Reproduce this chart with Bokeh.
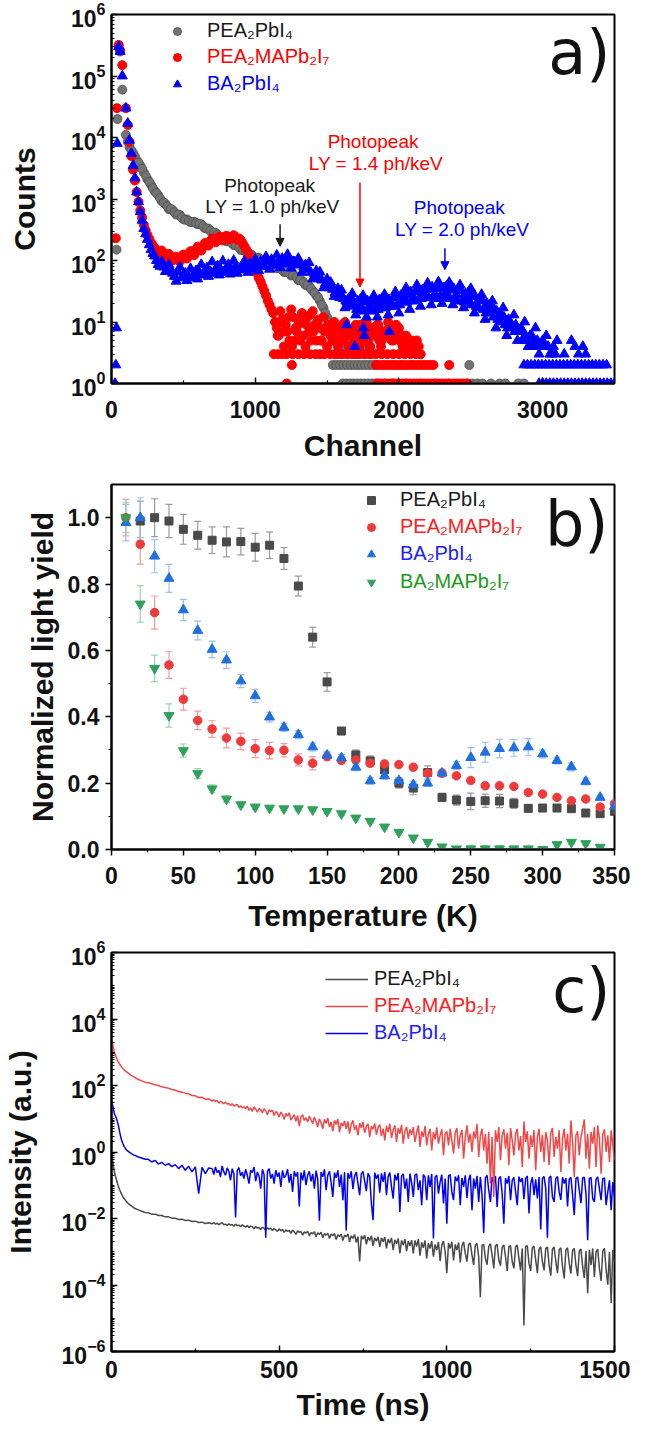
from bokeh.plotting import figure
from bokeh.layouts import column
from bokeh.models import (ColumnDataSource, FixedTicker, LogTickFormatter, NumeralTickFormatter,
                          Legend, LegendItem, Label, Arrow, NormalHead, Whisker, TeeHead)
from bokeh.embed import file_html
from bokeh.resources import INLINE

FONT = "Liberation Sans"

# ---------------- panel a : pulse height spectra (channel, counts) ----------------
pea_ch = [35, 42, 50, 60, 75] + list(range(100, 1801, 25))
pea_counts = [150, 20000, 300000, 250000, 60000,
              11000, 7000, 5600, 4300,
              3500, 2700, 2100, 1700,
              1350, 1150, 920, 830,
              680, 660, 560, 550,
              470, 465, 420, 425,
              390, 385, 335, 330,
              285, 280, 240, 238,
              205, 205, 178, 175,
              148, 146, 124, 124,
              108, 110, 98, 99,
              86, 87, 75, 76,
              65, 66, 57, 57,
              48, 47, 40, 38,
              32, 27, 22, 17,
              12, 9, 7, 6,
              5, 4, 6, 4,
              5, 4, 5, 4,
              4]
pea_ch_b = list(range(113, 1800, 25))
pea_counts_b = [8500, 6200, 4900, 3900, 3100, 2400, 1900, 1500,
                1250, 1030, 880, 760,
                690, 610, 560, 500,
                460, 440, 420, 405,
                395, 360, 330, 305,
                285, 260, 242, 222,
                208, 192, 178, 162,
                150, 136, 126, 116,
                110, 104, 100, 93,
                87, 81, 76, 70,
                66, 62, 58, 53,
                48, 44, 40, 35,
                30, 25, 19, 14,
                10, 8, 6, 5,
                6, 5, 4, 6,
                4, 5, 6, 5]
pea_row_ch = [1550, 1580, 1610, 1640, 1670, 1700, 1730, 1760, 1790, 1810,
              1540, 1565, 1590, 1615, 1640, 1665, 1690, 1715, 1740, 1765, 1790, 1815, 1840, 2490,
              1610, 1635, 1660, 1685, 1710, 1735, 1760, 1785, 1810, 1835, 1860, 1900, 1960, 2050,
              2150, 2250, 2350, 2480, 2510, 2545, 2580, 2640, 2700, 2740, 2830, 2870]
pea_row_counts = [3, 3, 3, 3, 3, 3, 3, 3, 3, 3,
                  2, 2, 2, 2, 2, 2, 2, 2, 2, 2, 2, 2, 2, 2,
                  1, 1, 1, 1, 1, 1, 1, 1, 1, 1, 1, 1, 1, 1,
                  1, 1, 1, 1, 1, 1, 1, 1, 1, 1, 1, 1]

peama_ch = [30, 38, 50, 60, 75] + list(range(100, 2151, 25))
peama_counts = [230, 30000, 320000, 260000, 150000,
                30000, 8500, 3000, 1300,
                650, 380, 260, 195,
                160, 130, 145, 112,
                128, 100, 115, 96,
                125, 108, 142, 122,
                168, 145, 192, 175,
                228, 198, 245, 212,
                252, 222, 258, 218,
                215, 170, 135, 100,
                75, 52, 38, 27,
                19, 14, 8, 15,
                4, 7, 16, 5,
                9, 14, 4, 7,
                15, 5, 8, 12,
                4, 6, 10, 4,
                7, 10, 4, 6,
                9, 4, 6, 10,
                4, 7, 9, 4,
                6, 10, 5, 7,
                8, 4, 6, 5,
                4, 5, 3]
peama_ch_b = list(range(113, 2150, 25))
peama_counts_b = [16000, 5000, 2000, 900, 500, 310, 225, 175,
                  145, 120, 132, 108,
                  112, 106, 104, 112,
                  116, 128, 132, 150,
                  158, 172, 182, 205,
                  212, 230, 228, 238,
                  240, 236, 240, 228,
                  190, 150, 118, 88,
                  62, 45, 32, 22,
                  16, 10, 6, 11,
                  9, 5, 12, 7,
                  5, 10, 12, 5,
                  9, 11, 5, 8,
                  7, 5, 8, 6,
                  5, 8, 6, 5,
                  7, 8, 5, 6,
                  8, 6, 5, 7,
                  6, 7, 5, 6,
                  6, 5, 4, 5,
                  4, 4]
peama_ch_c = list(range(1156, 2100, 25))
peama_counts_c = [6, 10, 7, 12,
                  4, 8, 11, 6,
                  9, 13, 7, 10,
                  5, 7, 9, 6,
                  8, 5, 9, 6,
                  7, 8, 5, 9,
                  7, 5, 8, 6,
                  9, 5, 7, 8,
                  6, 9, 5, 6,
                  4, 5]
peama_row_ch = [1130, 1160, 1190, 1220, 1260, 1300, 1340, 1380, 1420, 1450, 1480, 1520, 1560, 1600,
                1640, 1680, 1720, 1760, 1800, 1840, 1880, 1920, 1960, 2000, 2040, 2080, 2120, 2150,
                1255, 1840, 1865, 1890, 1915, 1940, 1965, 1990, 2015, 2040, 2065, 2090, 2115, 2140,
                2165, 2190, 2215, 2240, 2350,
                1220, 1850, 1875, 1900, 1925, 1950, 1975, 2000, 2025, 2050, 2075, 2100, 2125, 2150,
                2175, 2200, 2225, 2250, 2275, 2300, 2325, 2350, 2375, 2400, 2425, 2450, 2475]
peama_row_counts = [3, 3, 3, 3, 3, 3, 3, 3, 3, 3, 3, 3, 3, 3,
                    3, 3, 3, 3, 3, 3, 3, 3, 3, 3, 3, 3, 3, 3,
                    2, 2, 2, 2, 2, 2, 2, 2, 2, 2, 2, 2, 2, 2,
                    2, 2, 2, 2, 2,
                    1, 1, 1, 1, 1, 1, 1, 1, 1, 1, 1, 1, 1, 1,
                    1, 1, 1, 1, 1, 1, 1, 1, 1, 1, 1, 1, 1]

ba_ch = [25, 30, 35, 40, 50, 60, 75] + list(range(100, 3101, 25))
ba_counts = [1, 2, 8, 8000, 300000, 250000, 100000,
             30000, 9000, 3500, 1300,
             620, 330, 220, 150,
             118, 86, 96, 66,
             85, 62, 46, 78,
             58, 47, 74, 60,
             50, 86, 68, 55,
             95, 72, 58, 98,
             75, 60, 100, 62,
             78, 98, 64, 80,
             105, 68, 88, 115,
             72, 94, 122, 76,
             96, 125, 75, 95,
             108, 64, 85, 92,
             50, 68, 65, 36,
             50, 44, 26, 35,
             33, 17, 24, 29,
             13, 19, 27, 12,
             18, 27, 12, 18,
             28, 13, 20, 31,
             14, 22, 36, 16,
             25, 40, 18, 28,
             43, 19, 29, 45,
             20, 30, 44, 19,
             28, 40, 17, 26,
             35, 14, 22, 28,
             11, 17, 22, 8,
             13, 17, 6, 10,
             13, 5, 8, 10,
             4, 6, 8, 3,
             5, 6, 3, 4,
             5]
ba_ch_b = list(range(113, 3100, 25))
ba_counts_b = [17000, 5500, 2200, 900, 450, 270, 180, 130,
               100, 80, 78, 72,
               70, 55, 65, 52,
               62, 56, 52, 68,
               64, 58, 76, 66,
               62, 82, 70, 64,
               86, 70, 78, 70,
               84, 74, 88, 72,
               86, 96, 80, 98,
               104, 84, 98, 108,
               88, 104, 96, 84,
               88, 78, 72, 64,
               60, 52, 48, 42,
               36, 34, 30, 25,
               24, 21, 20, 19,
               22, 16, 21, 17,
               21, 16, 23, 17,
               22, 18, 25, 19,
               27, 21, 28, 22,
               31, 24, 33, 25,
               34, 26, 35, 26,
               36, 25, 33, 24,
               32, 22, 29, 21,
               26, 18, 24, 16,
               20, 14, 16, 11,
               13, 9, 11, 8,
               9, 7, 7, 5,
               6, 4, 5, 4,
               4, 4, 3, 3]
ba_ch_c = list(range(1506, 3000, 25))
ba_counts_c = [40, 38, 30, 28,
               26, 22, 18, 22,
               16, 23, 15, 22,
               15, 21, 16, 24,
               17, 23, 18, 26,
               19, 29, 21, 31,
               22, 34, 24, 35,
               25, 37, 24, 36,
               25, 38, 24, 35,
               22, 33, 21, 30,
               19, 26, 17, 23,
               14, 19, 12, 15,
               10, 12, 8, 9,
               7, 7, 5, 6,
               4, 5, 4, 4]
ba_row_ch = [3150, 3200, 3225, 3250, 3280, 3300, 1637, 1692, 1753, 1760, 1932,
             2870, 2895, 2920, 2945, 2970, 2995, 3020, 3045, 3070, 3095, 3120, 3145,
             3170, 3195, 3220, 3245, 3270, 3295, 3320, 3345, 3370, 3395, 3420, 3445,
             2975, 3000, 3025, 3050, 3075, 3100, 3125, 3150, 3175, 3200, 3225, 3250,
             3275, 3300, 3325, 3350, 3375, 3400, 3425, 3450, 3475, 3500]
ba_row_counts = [3, 5, 4, 3, 4, 3, 9, 4, 8, 6, 7,
                 2, 2, 2, 2, 2, 2, 2, 2, 2, 2, 2, 2,
                 2, 2, 2, 2, 2, 2, 2, 2, 2, 2, 2, 2,
                 1, 1, 1, 1, 1, 1, 1, 1, 1, 1, 1, 1,
                 1, 1, 1, 1, 1, 1, 1, 1, 1, 1]

photopeak_ch = [1173, 1729, 2320]
photopeak_ly = ["1.0", "1.4", "2.0"]

# ---------------- panel b : normalized light yield vs temperature ----------------
temp_all = list(range(10, 351, 10))
pea_T = list(range(20, 351, 10))
pea_ly = [0.99, 1.0, 0.99, 0.965, 0.947, 0.932, 0.927, 0.928, 0.911, 0.917, 0.877, 0.794,
          0.64, 0.505, 0.357, 0.285, 0.267, 0.24, 0.2, 0.185, 0.232, 0.157, 0.149, 0.145,
          0.147, 0.146, 0.139, 0.124, 0.125, 0.125, 0.123, 0.11, 0.108, 0.115]
pea_err = [0.06, 0.057, 0.05, 0.045, 0.042, 0.04, 0.045, 0.04, 0.042, 0.04, 0.033, 0.03,
           0.03, 0.028, 0.01, 0.015, 0.015, 0.02, 0.015, 0.02, 0.02, 0.012, 0.015, 0.025,
           0.02, 0.02, 0.015, 0.01, 0.008, 0.008, 0.01, 0.008, 0.008, 0.008]
peama_ly = [1.0, 0.92, 0.714, 0.556, 0.453, 0.389, 0.363, 0.336, 0.326, 0.304, 0.298, 0.299,
            0.27, 0.26, 0.28, 0.269, 0.27, 0.26, 0.258, 0.256, 0.248, 0.23, 0.23, 0.222,
            0.208, 0.192, 0.192, 0.19, 0.172, 0.167, 0.157, 0.147, 0.152, 0.128, 0.138]
peama_err = [0.055, 0.06, 0.05, 0.04, 0.033, 0.028, 0.025, 0.03, 0.025, 0.027, 0.025, 0.02,
             0.018, 0.02, 0.012, 0.01, 0.01, 0.01, 0.01, 0.008, 0.008, 0.01, 0.008, 0.008,
             0.008, 0.008, 0.006, 0.006, 0.006, 0.006, 0.006, 0.006, 0.006, 0.006, 0.006]
ba_ly = [0.985, 1.0, 0.884, 0.817, 0.722, 0.66, 0.603, 0.571, 0.508, 0.463, 0.399, 0.368,
         0.346, 0.309, 0.284, 0.276, 0.248, 0.207, 0.222, 0.207, 0.195, 0.2, 0.23, 0.253,
         0.277, 0.293, 0.304, 0.306, 0.309, 0.288, 0.268, 0.249, 0.205, 0.157, 0.13]
ba_err = [0.055, 0.06, 0.05, 0.042, 0.032, 0.028, 0.025, 0.025, 0.02, 0.02, 0.015, 0.012,
          0.012, 0.012, 0.012, 0.01, 0.01, 0.01, 0.01, 0.01, 0.01, 0.01, 0.012, 0.012,
          0.03, 0.03, 0.028, 0.025, 0.025, 0.012, 0.01, 0.012, 0.01, 0.008, 0.008]
bama_T = list(range(10, 341, 10))
bama_ly = [1.0, 0.74, 0.546, 0.404, 0.298, 0.229, 0.183, 0.152, 0.135, 0.128, 0.125, 0.123,
           0.123, 0.12, 0.115, 0.108, 0.095, 0.085, 0.068, 0.052, 0.035, 0.022, 0.008, 0.002,
           0.002, 0.002, 0.002, 0.002, 0.002, 0.0, 0.015, 0.022, 0.018, 0.007]
bama_err = [0.045, 0.055, 0.04, 0.035, 0.02, 0.015, 0.012, 0.01, 0.008, 0.008, 0.006, 0.006,
            0.006, 0.006, 0.006, 0.006, 0.006, 0.006, 0.006, 0.006, 0.006, 0.006, 0.006, 0.006,
            0.01, 0.01, 0.01, 0.008, 0.008, 0.006, 0.006, 0.006, 0.006, 0.006]

# ---------------- panel c : decay curves, read as log10(intensity) ----------------
t_main = [0, 2, 4, 6, 8, 10, 13, 16, 20, 25, 30, 35, 40, 45, 50, 60, 70, 80, 90, 100] \
    + list(range(110, 300, 10)) + list(range(300, 1501, 5))
t_ba = [0, 2, 4, 6, 8, 10, 12, 15, 18, 21, 24, 27, 30, 34, 38, 42, 46, 50, 55, 60, 65, 70, 80, 90, 100] \
    + list(range(110, 300, 10)) + list(range(300, 1501, 5))

peama_decay_log10 = [
    3.51, 3.34, 3.22, 3.11, 3.03, 2.96, 2.88, 2.80, 2.72, 2.63, 2.56, 2.50, 2.45, 2.41, 2.37, 2.30, 2.24, 2.18, 2.14, 2.10,
    2.08, 2.05, 2.02, 2.00, 1.96, 1.94, 1.92, 1.88, 1.86, 1.82, 1.80, 1.77, 1.75, 1.70, 1.69, 1.64, 1.65, 1.58, 1.60,
    1.53, 1.57, 1.52, 1.55, 1.47, 1.52, 1.49, 1.45, 1.50, 1.44, 1.46, 1.40, 1.45, 1.38, 1.41, 1.43, 1.34, 1.39, 1.33, 1.36,
    1.30, 1.38, 1.25, 1.33, 1.22, 1.36, 1.29, 1.20, 1.31, 1.27, 1.18, 1.30, 1.24, 1.12, 1.27, 1.21, 1.26, 1.10, 1.22, 1.17,
    1.05, 1.20, 1.12, 0.98, 1.16, 1.08, 1.18, 0.96, 1.05, 1.12, 0.92, 1.10, 0.78, 1.06, 1.12, 0.95, 1.03, 0.90, 1.08, 0.97,
    0.85, 1.05, 0.92, 0.76, 1.00, 0.88, 0.70, 0.98, 0.86, 1.02, 0.75, 0.90, 0.62, 0.95, 0.83, 0.99, 0.60, 0.88, 0.78, 0.93,
    0.70, 0.92, 0.55, 0.83, 0.95, 0.66, 0.80, 0.50, 0.87, 0.72, 0.90, 0.58, 0.76, 0.85, 0.45, 0.78, 0.68, 0.86, 0.52, 0.74,
    0.82, 0.48, 0.70, 0.35, 0.78, 0.60, 0.85, 0.42, 0.66, 0.80, 0.30, 0.72, 0.55, 0.82, 0.25, 0.63, 0.76, 0.40, 0.68, 0.52,
    0.75, 0.30, 0.58, 0.80, 0.15, 0.62, 0.45, 0.78, 0.20, 0.55, 0.70, 0.05, 0.60, 0.38, 0.74, 0.25, 0.50, 0.68, -0.10, 0.55,
    0.62, 0.20, 0.70, 0.35, -0.05, 0.58, 0.72, 0.10, 0.50, 0.66, -0.20, 0.45, 0.80, 0.28, 0.55, 0.00, 0.62, 0.40, 0.85, -0.15,
    0.50, 0.70, 0.05, 0.55, -0.35, 0.60, -0.95, 0.45, -1.35, 0.65, 0.30, 0.75, -0.25, 0.50, 0.68, 0.10, 0.58, -0.40, 0.72, 0.35,
    -0.10, 0.55, 0.70, 0.05, 0.48, -0.45, 0.92, 0.30, 0.62, -0.20, 0.50, 0.15, 0.66, -0.55, 0.45, 0.70, 0.00, 0.52, -0.30, 0.60,
    0.35, -0.40, 0.58, 0.72, -0.15, 0.45, 0.10, 0.65, -0.60, 0.40, 0.70, 0.05, 0.55, -0.35, 0.95, 0.30, -0.75, 0.50, 0.62, -0.10,
    0.45, 0.70, 0.98, -0.20, 0.55, -0.50, 0.60, 0.25, 0.75, -0.45, 0.80, 0.40, -0.65, 0.52, 0.68, 0.00, 0.50, -0.30, 0.65, 0.20, -0.25]

ba_decay_log10 = [
    1.51, 1.45, 1.38, 1.28, 1.18, 1.11, 1.08, 1.00, 0.90, 0.78, 0.62, 0.48, 0.36, 0.25, 0.16, 0.10, 0.05, 0.02, -0.02, -0.05,
    -0.09, -0.10, -0.15, -0.18, -0.22,
    -0.22, -0.30, -0.25, -0.36, -0.31, -0.40, -0.35, -0.44, -0.38, -0.50, -0.40, -0.55, -0.43, -0.60, -0.45, -1.25, -0.46, -0.65, -0.48,
    -0.50, -0.68, -0.45, -0.62, -0.55, -0.75, -0.42, -0.60, -0.70, -0.48, -0.58, -0.85, -0.50, -0.66, -1.97, -0.55, -0.47, -0.72, -0.60, -0.80,
    -0.52, -0.70, -0.95, -0.55, -0.62, -0.45, -0.88, -0.60, -0.73, -1.10, -0.52, -0.68, -2.58, -0.58, -0.50, -0.80, -0.66, -0.95, -0.55, -0.75,
    -0.62, -1.05, -0.55, -0.78, -0.70, -0.52, -0.92, -0.66, -1.20, -0.58, -0.74, -0.60, -1.64, -0.62, -0.85, -0.55, -1.00, -0.70, -0.58, -0.88,
    -0.66, -1.10, -0.56, -0.82, -2.07, -0.60, -0.75, -0.52, -1.15, -0.70, -0.58, -0.92, -1.35, -0.62, -0.78, -0.55, -1.05, -0.68, -1.45, -0.60,
    -2.36, -0.63, -0.80, -0.58, -1.12, -0.72, -0.60, -0.95, -1.30, -0.66, -0.58, -0.88, -1.18, -0.64, -0.75, -1.55, -2.05, -0.62, -0.80, -0.68,
    -1.22, -0.64, -0.90, -0.60, -1.30, -0.74, -0.62, -1.05, -1.40, -0.68, -0.85, -0.63, -1.80, -0.72, -0.66, -1.10, -0.80, -1.50, -0.65, -0.92,
    -1.35, -0.70, -0.66, -1.15, -0.85, -1.60, -0.68, -0.76, -1.45, -0.70, -1.05, -0.66, -2.60, -0.75, -0.70, -1.25, -0.90, -0.68, -1.55, -0.80,
    -2.16, -0.72, -0.68, -1.20, -1.45, -0.74, -0.88, -0.70, -1.60, -0.78, -1.05, -0.70, -1.38, -0.85, -0.68, -1.75, -0.80, -1.10, -0.72, -1.50,
    -0.75, -1.30, -2.44, -0.78, -0.70, -1.15, -1.50, -0.76, -0.92, -0.72, -1.65, -0.80, -0.74, -1.25, -2.16, -0.78, -0.95, -0.72, -1.45, -0.85,
    -0.76, -1.20, -1.60, -0.74, -0.90, -0.78, -1.42, -0.80, -0.72, -1.85, -0.95, -0.76, -1.30, -0.82, -1.40, -0.75, -2.33, -0.80, -0.74, -1.10,
    -2.58, -0.78, -0.72, -1.35, -1.50, -0.80, -0.74, -1.20, -1.44, -0.76, -0.95, -0.78, -1.64, -0.82, -0.76, -1.30, -1.90, -0.80, -0.75, -1.15,
    -1.54, -0.78, -0.76, -1.25, -2.65, -0.80, -0.76, -1.40, -1.50, -0.82, -0.75, -1.10, -1.45, -0.80, -0.78, -1.60, -1.20, -0.85, -1.75, -0.90, -1.35]

pea_decay_log10 = [
    -0.05, -0.15, -0.30, -0.45, -0.56, -0.65, -0.77, -0.88, -1.02, -1.15, -1.27, -1.36, -1.43, -1.50, -1.55, -1.63, -1.70, -1.74, -1.78, -1.82,
    -1.83, -1.87, -1.87, -1.91, -1.91, -1.95, -1.95, -1.99, -1.99, -2.03, -2.02, -2.06, -2.05, -2.09, -2.08, -2.12, -2.11, -2.15, -2.13,
    -2.16, -2.12, -2.17, -2.14, -2.19, -2.15, -2.13, -2.19, -2.17, -2.21, -2.16, -2.20, -2.18, -2.23, -2.17, -2.22, -2.20, -2.25, -2.19, -2.23,
    -2.26, -2.21, -2.28, -2.23, -2.25, -2.31, -2.24, -2.29, -2.27, -2.33, -2.26, -2.30, -2.35, -2.28, -2.32, -2.29, -2.36, -2.30, -2.34, -2.39,
    -2.31, -2.37, -2.33, -2.42, -2.34, -2.39, -2.36, -2.45, -2.35, -2.40, -2.48, -2.37, -2.42, -2.39, -2.50, -2.40, -2.44, -2.38, -2.52, -2.42,
    -2.46, -2.40, -2.55, -2.43, -2.48, -2.41, -2.58, -2.45, -2.50, -2.44, -2.60, -2.47, -2.52, -2.45, -2.63, -2.49, -2.54, -2.47, -2.66, -2.50,
    -2.55, -2.46, -2.70, -2.52, -2.60, -2.48, -2.72, -2.55, -3.29, -2.52, -2.62, -2.50, -2.78, -2.56, -2.66, -2.52, -2.82, -2.58, -2.68, -2.55,
    -2.85, -2.58, -2.70, -2.56, -2.90, -2.62, -2.74, -2.58, -2.95, -2.64, -2.76, -2.60, -3.05, -2.66, -2.80, -2.62, -2.98, -2.68, -2.82, -2.65,
    -3.05, -2.66, -2.84, -2.62, -3.12, -2.72, -2.88, -2.66, -3.20, -2.74, -2.90, -2.68, -3.15, -2.78, -2.95, -2.70, -3.28, -2.80, -2.68, -3.00,
    -3.64, -2.74, -2.90, -2.70, -3.26, -2.78, -2.95, -2.72, -3.32, -2.82, -2.70, -3.05, -3.30, -2.78, -2.74, -3.10, -3.40, -2.80, -2.75, -3.15,
    -4.37, -2.80, -2.78, -3.20, -3.39, -2.84, -2.76, -3.10, -3.50, -2.82, -2.78, -3.25, -3.42, -2.86, -2.80, -3.15, -3.58, -2.85, -2.82, -3.30,
    -3.50, -2.86, -2.80, -3.20, -3.56, -2.90, -5.22, -2.84, -2.82, -3.35, -3.58, -2.88, -2.84, -3.25, -3.64, -2.92, -2.85, -3.30, -3.56, -2.90,
    -2.86, -3.40, -3.72, -2.92, -2.86, -3.30, -3.64, -2.94, -2.88, -3.45, -3.80, -2.95, -2.88, -3.35, -3.66, -2.96, -2.90, -3.40, -3.73, -2.98,
    -2.92, -3.45, -3.79, -2.98, -4.25, -2.94, -3.40, -2.90, -3.76, -3.00, -2.92, -3.50, -3.88, -2.98, -2.90, -3.55, -3.99, -3.00, -4.54, -2.95, -3.30]

legend_names = ["PEA\u2082PbI\u2084", "PEA\u2082MAPb\u2082I\u2087", "BA\u2082PbI\u2084", "BA\u2082MAPb\u2082I\u2087"]


def style(p, xlabel, ylabel, ticks_out=False):
    p.outline_line_color = "black"
    p.outline_line_width = 2
    p.outline_line_alpha = 1
    p.grid.visible = False
    p.xaxis.axis_label = xlabel
    p.yaxis.axis_label = ylabel
    for ax in (p.xaxis[0], p.yaxis[0]):
        ax.axis_line_width = 2
        ax.axis_line_color = "black"
        ax.major_tick_line_width = 1.5
        ax.minor_tick_line_width = 1.2
        ax.major_tick_line_color = "black"
        ax.minor_tick_line_color = "black"
        ax.major_label_text_font = FONT
        ax.major_label_text_font_style = "bold"
        ax.major_label_text_font_size = "23px"
        ax.major_label_text_color = "#111111"
        ax.axis_label_text_font = FONT
        ax.axis_label_text_font_style = "bold"
        ax.axis_label_text_font_size = "30px"
        ax.axis_label_text_color = "#111111"
        if ticks_out:
            ax.major_tick_in, ax.major_tick_out = 0, 6
            ax.minor_tick_in, ax.minor_tick_out = 0, 3
        else:
            ax.major_tick_in, ax.major_tick_out = 6, 0
            ax.minor_tick_in, ax.minor_tick_out = 3, 0


def add_legend(p, r, label, color, x, y, gw=20, standoff=17):
    lg = Legend(items=[LegendItem(label=label, renderers=[r])], location=(x, y),
                orientation="vertical", padding=0, margin=0, spacing=0,
                glyph_width=gw, glyph_height=20, label_standoff=standoff, label_height=20,
                label_text_font=FONT, label_text_font_size="20px", label_text_color=color,
                label_text_baseline="middle",
                background_fill_alpha=0, border_line_alpha=0)
    p.add_layout(lg)


def panel_tag(p, text, x, y):
    p.add_layout(Label(x=x, y=y, x_units="screen", y_units="screen", text=text,
                       text_font="DejaVu Sans", text_font_size="62px",
                       text_color="#111111", text_align="right", text_baseline="middle"))


def pts(xs, ys):
    n = min(len(xs), len(ys))
    return list(xs[:n]), list(ys[:n])


def merge(*pairs):
    xs, ys = [], []
    for a, b in pairs:
        u, v = pts(a, b)
        xs += u
        ys += v
    return xs, ys


# ---------- figure a ----------
pa = figure(width=630, height=464, x_range=(0, 3500), y_range=(1, 1e6), y_axis_type="log",
            output_backend="svg", toolbar_location=None,
            min_border_left=102, min_border_right=16, min_border_top=14, min_border_bottom=76)
style(pa, "Channel", "Counts")
pa.xaxis.ticker = FixedTicker(ticks=[0, 1000, 2000, 3000], minor_ticks=[500, 1500, 2500, 3500])
pa.yaxis.ticker = FixedTicker(ticks=[1, 10, 100, 1e3, 1e4, 1e5, 1e6],
                              minor_ticks=[m * 10 ** k for k in range(0, 6) for m in range(2, 10)])
pa.yaxis.formatter = LogTickFormatter()
pa.xaxis.major_label_standoff = 17
pa.xaxis.axis_label_standoff = 8
pa.yaxis.major_label_standoff = 6
pa.yaxis.axis_label_standoff = 27

grey_x, grey_y = merge((pea_ch, pea_counts), (pea_ch_b, pea_counts_b), (pea_row_ch, pea_row_counts))
red_x, red_y = merge((peama_ch, peama_counts), (peama_ch_b, peama_counts_b), (peama_ch_c, peama_counts_c),
                     (peama_row_ch, peama_row_counts))
blue_x, blue_y = merge((ba_ch, ba_counts), (ba_ch_b, ba_counts_b), (ba_ch_c, ba_counts_c),
                       (ba_row_ch, ba_row_counts))

ra1 = pa.scatter(grey_x, grey_y, marker="circle", size=9,
                 fill_color="#737373", line_color="#4f4f4f", line_width=0.8)
ra2 = pa.scatter(red_x, red_y, marker="circle", size=9, fill_color="#ff0000", line_color="#ff0000")
ra3 = pa.scatter(blue_x, blue_y, marker="triangle", size=10, fill_color="#0000ff", line_color="#0000ff")
add_legend(pa, ra1, legend_names[0], "#1a1a1a", 56, 341, standoff=20)
add_legend(pa, ra2, legend_names[1], "#ff0000", 56, 315, standoff=20)
add_legend(pa, ra3, legend_names[2], "#0000ff", 56, 288, standoff=20)

peak_colors = ["#1a1a1a", "#ff0000", "#0000ff"]
text_pos = [(1100, 1660, 750), (1820, 8700, 3800), (2420, 720, 315)]
arrow_span = [(390, 170), (1850, 37), (158, 71)]
for ch, ly, col, (tx, ty1, ty2), (y0, y1) in zip(photopeak_ch, photopeak_ly, peak_colors, text_pos, arrow_span):
    pa.add_layout(Label(x=tx, y=ty1, text="Photopeak", text_font=FONT, text_font_size="19px",
                        text_color=col, text_align="center", text_baseline="middle"))
    pa.add_layout(Label(x=tx + 20, y=ty2, text="LY = %s ph/keV" % ly, text_font=FONT, text_font_size="19px",
                        text_color=col, text_align="center", text_baseline="middle"))
    pa.add_layout(Arrow(end=NormalHead(size=8, fill_color=col, line_color=col, line_width=1),
                        x_start=ch, y_start=y0, x_end=ch, y_end=y1, line_color=col, line_width=1.5))
panel_tag(pa, "a)", 499, 331)

# ---------- figure b ----------
pb = figure(width=630, height=470, x_range=(0, 350), y_range=(0, 1.1),
            output_backend="svg", toolbar_location=None,
            min_border_left=104, min_border_right=16, min_border_top=20, min_border_bottom=84)
style(pb, "Temperature (K)", "Normalized light yield", ticks_out=True)
pb.xaxis.ticker = FixedTicker(ticks=list(range(0, 351, 50)), minor_ticks=list(range(25, 350, 50)))
pb.yaxis.ticker = FixedTicker(ticks=[0, 0.2, 0.4, 0.6, 0.8, 1.0], minor_ticks=[0.1, 0.3, 0.5, 0.7, 0.9])
pb.yaxis.formatter = NumeralTickFormatter(format="0.0")
pb.xaxis.major_label_standoff = 11
pb.xaxis.axis_label_standoff = 12
pb.yaxis.major_label_standoff = 6
pb.yaxis.axis_label_standoff = 6

series_b = [
    (pea_T, pea_ly, pea_err, "square", 8, "#4a4a4a", "#9a9a9a", legend_names[0], "#1a1a1a"),
    (temp_all, peama_ly, peama_err, "circle", 8.5, "#f03a3a", "#f59a9a", legend_names[1], "#ff2020"),
    (temp_all, ba_ly, ba_err, "triangle", 10, "#1f6fe0", "#9cc0f0", legend_names[2], "#2020ff"),
    (bama_T, bama_ly, bama_err, "inverted_triangle", 10, "#2ea25a", "#9ad6ae", legend_names[3], "#1a9a1a"),
]
leg_y = [338, 311, 284, 256]
for (tx, ly, er, mk, sz, col, ecol, name, tcol), yy in zip(series_b, leg_y):
    src = ColumnDataSource(dict(x=tx, y=ly, lo=[v - e for v, e in zip(ly, er)], hi=[v + e for v, e in zip(ly, er)]))
    w = Whisker(base="x", upper="hi", lower="lo", source=src, line_color=ecol, line_width=1.2,
                upper_head=TeeHead(size=7, line_color=ecol, line_width=1.2),
                lower_head=TeeHead(size=7, line_color=ecol, line_width=1.2), level="underlay")
    pb.add_layout(w)
    r = pb.scatter("x", "y", source=src, marker=mk, size=sz, fill_color=col, line_color=col)
    add_legend(pb, r, name, tcol, 250, yy, standoff=19)
panel_tag(pb, "b)", 497, 326)

# ---------- figure c ----------
pc = figure(width=630, height=489, x_range=(0, 1500), y_range=(1e-6, 1e6), y_axis_type="log",
            output_backend="svg", toolbar_location=None,
            min_border_left=102, min_border_right=16, min_border_top=18, min_border_bottom=72)
style(pc, "Time (ns)", "Intensity (a.u.)")
pc.xaxis.ticker = FixedTicker(ticks=[0, 500, 1000, 1500], minor_ticks=[250, 750, 1250])
pc.yaxis.ticker = FixedTicker(ticks=[1e-6, 1e-4, 1e-2, 1, 1e2, 1e4, 1e6],
                              minor_ticks=[m * 10.0 ** k for k in range(-6, 6) for m in range(1, 10)])
pc.yaxis.formatter = LogTickFormatter()
pc.xaxis.major_label_standoff = 9
pc.xaxis.axis_label_standoff = 7
pc.yaxis.major_label_standoff = 6
pc.yaxis.axis_label_standoff = 22

tg, vg = pts(t_main, [10 ** v for v in pea_decay_log10])
tb, vb = pts(t_ba, [10 ** v for v in ba_decay_log10])
tr, vr = pts(t_main, [10 ** v for v in peama_decay_log10])
rc1 = pc.line(tg, vg, line_color="#4a4a4a", line_width=1.5)
rc3 = pc.line(tb, vb, line_color="#0000ff", line_width=1.5)
rc2 = pc.line(tr, vr, line_color="#f04848", line_width=1.5)
add_legend(pc, rc1, legend_names[0], "#1a1a1a", 214, 361, gw=43, standoff=6)
add_legend(pc, rc2, legend_names[1], "#ff2020", 214, 334, gw=43, standoff=6)
add_legend(pc, rc3, legend_names[2], "#2020ff", 214, 307, gw=43, standoff=6)
panel_tag(pc, "c)", 499, 361)

layout = column(pa, pb, pc, spacing=0)
open("out.html", "w").write(file_html(layout, INLINE))
